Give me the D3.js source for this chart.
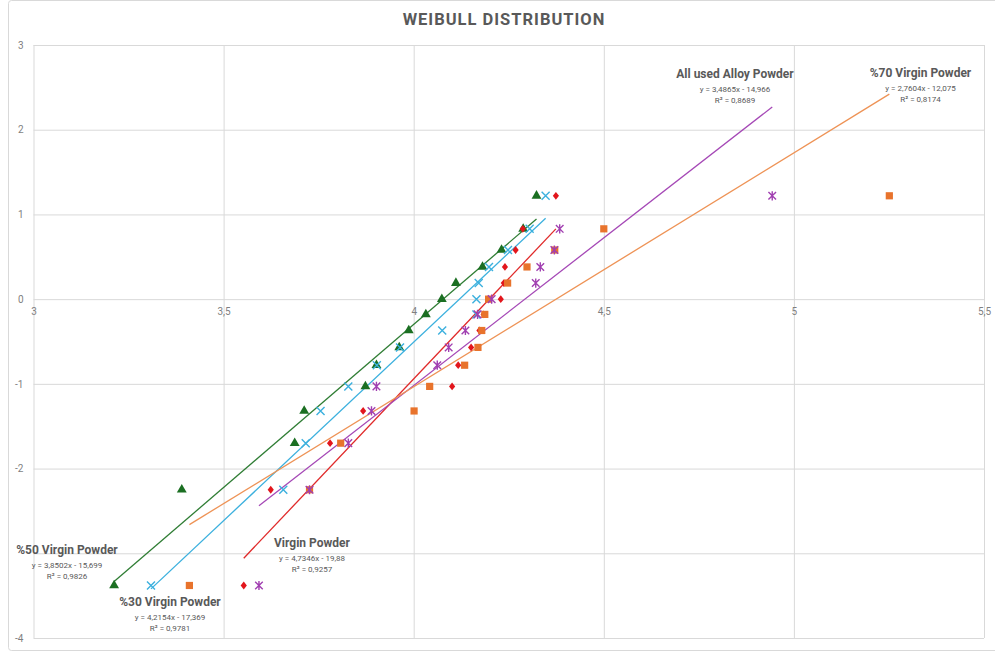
<!DOCTYPE html>
<html>
<head>
<meta charset="utf-8">
<script src="https://cdn.jsdelivr.net/npm/d3@7"></script>
<style>
  html, body { margin: 0; padding: 0; background: #ffffff; }
  svg { display: block; font-family: Roboto, "Open Sans", sans-serif; }
</style>
</head>
<body>
<svg id="chart" width="995" height="652"></svg>
<script>
// Weibull plot: ln(-ln(1-F)) against ln(strength) for five powder mixes.

const seriesNames = ["%50 Virgin Powder", "%30 Virgin Powder", "Virgin Powder", "All used Alloy Powder", "%70 Virgin Powder"];

// Plotting positions ln(-ln(1-F)), shared by every series (15 specimens each)
const weibullY = [-3.38, -2.25, -1.70, -1.32, -1.03, -0.78, -0.57, -0.37, -0.18, 0.00, 0.19, 0.38, 0.58, 0.83, 1.22];

// ln(strength) for each series, sorted ascending
const virgin50X = [3.212, 3.390, 3.687, 3.712, 3.873, 3.902, 3.962, 3.987, 4.032, 4.074, 4.111, 4.181, 4.231, 4.288, 4.323];
const virgin30X = [3.309, 3.657, 3.716, 3.755, 3.828, 3.903, 3.964, 4.075, 4.165, 4.165, 4.171, 4.198, 4.248, 4.305, 4.347];
const virginX   = [3.553, 3.624, 3.780, 3.867, 4.101, 4.117, 4.151, 4.173, 4.184, 4.229, 4.237, 4.240, 4.268, 4.287, 4.374];
const allUsedX  = [3.593, 3.726, 3.828, 3.889, 3.902, 4.062, 4.092, 4.136, 4.168, 4.205, 4.321, 4.333, 4.370, 4.384, 4.943];
const virgin70X = [3.410, 3.726, 3.808, 4.001, 4.042, 4.134, 4.169, 4.179, 4.187, 4.197, 4.247, 4.298, 4.371, 4.500, 5.251];

// Linear trend lines y = a·x + b and their R²
const trendSlopes     = [3.8502, 4.2154, 4.7346, 3.4865, 2.7604];
const trendIntercepts = [-15.699, -17.369, -19.88, -14.966, -12.075];
const trendR2         = [0.9826, 0.9781, 0.9257, 0.8689, 0.8174];

// Axis ticks (gridlines at every value; -3 carries no label, the %50 label sits there)
const xTickValues = [3, 3.5, 4, 4.5, 5, 5.5];
const xTickLabels = ["3", "3,5", "4", "4,5", "5", "5,5"];
const yTickValues = [-4, -3, -2, -1, 0, 1, 2, 3];
const yLabelValues = [-4, -2, -1, 0, 1, 2, 3];
const yTickLabels = ["-4", "-2", "-1", "0", "1", "2", "3"];

// ---- styling and layout ----
const seriesX = [virgin50X, virgin30X, virginX, allUsedX, virgin70X];
const markerColors = ["#1b6f22", "#3bb0de", "#e2161c", "#a13fb1", "#e8732c"];
const lineColors   = ["#2f7d34", "#3bb0de", "#e02a2a", "#a548b6", "#ee9356"];
const markerKinds  = ["triangle", "cross", "diamond", "star", "square"];
// Draw order of marker layers (later layers sit on top)
const drawOrder = [0, 1, 2, 4, 3];
// Trend-label anchors: centre x and baseline of the bold name line
const labelAnchors = [[67, 553.6], [170, 606], [312, 547], [735, 77.6], [920.5, 76.6]];

const svg = d3.select("#chart");
const plot = { left: 33.5, right: 984, top: 45, bottom: 638 };

const x = d3.scaleLinear().domain([3, 5.5]).range([plot.left, plot.right]);
const y = d3.scaleLinear().domain([-4, 3]).range([plot.bottom, plot.top]);

// chart frame
svg.append("rect")
  .attr("x", 8.5).attr("y", 0.5)
  .attr("width", 992).attr("height", 650)
  .attr("rx", 3)
  .attr("fill", "#ffffff")
  .attr("stroke", "#d9d9d9");

// gridlines
const gridColor = "#d9d9d9";
const gx = svg.append("g")
  .attr("transform", `translate(0,${y(-4)})`)
  .call(d3.axisBottom(x).tickValues(xTickValues).tickSize(-(y(-4) - y(3))).tickFormat(""));
gx.select(".domain").remove();
gx.selectAll("line").attr("stroke", gridColor);

const gy = svg.append("g")
  .attr("transform", `translate(${x(3)},0)`)
  .call(d3.axisLeft(y).tickValues(yTickValues).tickSize(-(x(5.5) - x(3))).tickFormat(""));
gy.select(".domain").remove();
gy.selectAll("line").attr("stroke", gridColor);

// tick labels: x axis crosses at y = 0
const ax = svg.append("g")
  .attr("transform", `translate(0,${y(0)})`)
  .call(d3.axisBottom(x).tickValues(xTickValues).tickSize(0).tickPadding(9)
    .tickFormat((d, i) => xTickLabels[i]));
ax.select(".domain").remove();
ax.selectAll("text").attr("fill", "#7f7f7f").style("font-size", "10px").style("font-family", "Roboto, sans-serif");

const ay = svg.append("g")
  .attr("transform", `translate(${x(3)},0)`)
  .call(d3.axisLeft(y).tickValues(yLabelValues).tickSize(0).tickPadding(10)
    .tickFormat((d, i) => yTickLabels[i]));
ay.select(".domain").remove();
ay.selectAll("text").attr("fill", "#7f7f7f").style("font-size", "10px").style("font-family", "Roboto, sans-serif");

// title
svg.append("text")
  .attr("x", 504).attr("y", 25)
  .attr("text-anchor", "middle")
  .attr("fill", "#595959")
  .style("font-size", "16.5px")
  .style("font-weight", "700")
  .style("letter-spacing", "1px")
  .text("WEIBULL  DISTRIBUTION");

// trend lines over each series' x range
const line = d3.line().x(d => x(d[0])).y(d => y(d[1]));
seriesX.forEach((xs, i) => {
  const [x0, x1] = d3.extent(xs);
  const pts = [x0, x1].map(v => [v, trendSlopes[i] * v + trendIntercepts[i]]);
  svg.append("path")
    .attr("d", line(pts))
    .attr("fill", "none")
    .attr("stroke", lineColors[i])
    .attr("stroke-width", 1.3);
});

// marker shapes
const markerPaths = {
  triangle: d3.symbol(d3.symbolTriangle, 42)(),
  diamond: "M0,-3.9L3.1,0L0,3.9L-3.1,0Z",
  square: "M-3.6,-3.6H3.6V3.6H-3.6Z",
  cross: "M-4,-4L4,4M-4,4L4,-4",
  star: "M-3.8,-3.8L3.8,3.8M-3.8,3.8L3.8,-3.8M0,-4.6V4.6"
};
const stroked = { cross: true, star: true };

drawOrder.forEach(i => {
  const kind = markerKinds[i];
  const pts = seriesX[i].map((v, k) => [v, weibullY[k]]);
  svg.append("g").selectAll("path")
    .data(pts)
    .join("path")
    .attr("transform", d => `translate(${x(d[0])},${y(d[1])})`)
    .attr("d", markerPaths[kind])
    .attr("fill", stroked[kind] ? "none" : markerColors[i])
    .attr("stroke", stroked[kind] ? markerColors[i] : "none")
    .attr("stroke-width", 1.4);
});

// trend labels: name, equation, R²
const fmtNum = v => String(Math.abs(v)).replace(".", ",");
seriesNames.forEach((name, i) => {
  const [cx, by] = labelAnchors[i];
  const g = svg.append("g");
  g.append("text")
    .attr("x", cx).attr("y", by)
    .attr("text-anchor", "middle")
    .attr("fill", "#595959")
    .style("font-size", "12px")
    .style("font-weight", "700")
    .text(name);
  const sign = trendIntercepts[i] < 0 ? "-" : "+";
  g.append("text")
    .attr("x", cx).attr("y", by + 14)
    .attr("text-anchor", "middle")
    .attr("fill", "#595959")
    .style("font-size", "8px")
    .text(`y = ${fmtNum(trendSlopes[i])}x ${sign} ${fmtNum(trendIntercepts[i])}`);
  g.append("text")
    .attr("x", cx).attr("y", by + 25.3)
    .attr("text-anchor", "middle")
    .attr("fill", "#595959")
    .style("font-size", "8px")
    .text(`R² = ${fmtNum(trendR2[i])}`);
});
</script>
</body>
</html>
